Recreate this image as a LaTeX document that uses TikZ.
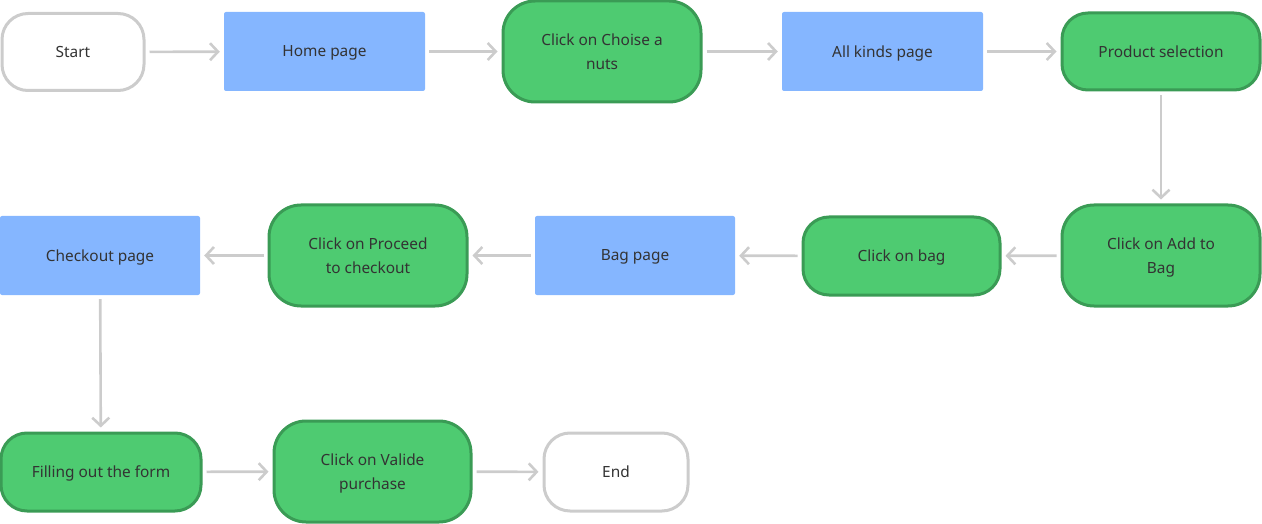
\documentclass[tikz,border=0pt]{standalone}
\usepackage{fontspec}
\setmainfont{Noto Sans}
\usetikzlibrary{arrows.meta}
\definecolor{grayline}{HTML}{CCCCCC}
\definecolor{bluebox}{HTML}{85B6FF}
\definecolor{greenfill}{HTML}{4ECB71}
\definecolor{greenline}{HTML}{3A9B55}
\definecolor{txt}{HTML}{333333}
\tikzset{
  base/.style={inner sep=0pt, align=center, text=txt, text depth=0pt, font=\fontsize{15.4}{24}\selectfont},
  term/.style={base, draw=grayline, fill=white, line width=3pt, rounded corners=26pt},
  page/.style={base, fill=bluebox, rounded corners=2pt},
  act/.style={base, draw=greenline, fill=greenfill, line width=3pt, rounded corners=32pt},
  link/.style={draw=grayline, line width=2.6pt, shorten <=4pt, shorten >=4pt,
    -{Straight Barb[length=8pt,width=17pt,line width=2.6pt]}}
}
\begin{document}
\begin{tikzpicture}[x=1pt,y=-1pt]
\useasboundingbox (0,0) rectangle (1262,524);
% row 1
\node[term, minimum width=142pt, minimum height=77pt] (start) at (73,52) {Start};
\node[page, minimum width=201pt, minimum height=79pt] (home) at (324.5,51.5) {Home page};
\node[act, minimum width=198pt, minimum height=101pt] (nuts) at (602,51.5) {Click on Choise a\\nuts};
\node[page, minimum width=201pt, minimum height=79pt] (kinds) at (882.5,51.5) {All kinds page};
\node[act, minimum width=198pt, minimum height=77pt, rounded corners=26pt] (prod) at (1161,51.5) {Product selection};
% row 2
\node[act, minimum width=198pt, minimum height=101pt] (add) at (1161,255.5) {Click on Add to\\Bag};
\node[act, minimum width=197pt, minimum height=78pt, rounded corners=26pt] (cbag) at (901.5,256) {Click on bag};
\node[page, minimum width=200pt, minimum height=79pt] (bag) at (635,255.5) {Bag page};
\node[act, minimum width=198pt, minimum height=101pt] (proc) at (368,255.5) {Click on Proceed\\to checkout};
\node[page, minimum width=200pt, minimum height=79pt] (chk) at (100,255.5) {Checkout page};
% row 3
\node[act, minimum width=200pt, minimum height=78pt, rounded corners=26pt] (form) at (101,472) {Filling out the form};
\node[act, minimum width=197pt, minimum height=101pt] (valid) at (372.5,471.5) {Click on Valide\\purchase};
\node[term, minimum width=144pt, minimum height=78pt] (end) at (616,472) {End};
% connectors
\draw[link] (start) -- (home);
\draw[link] (home) -- (nuts);
\draw[link] (nuts) -- (kinds);
\draw[link] (kinds) -- (prod);
\draw[link] (prod) -- (add);
\draw[link] (add) -- (cbag);
\draw[link] (cbag) -- (bag);
\draw[link] (bag) -- (proc);
\draw[link] (proc) -- (chk);
\draw[link] (chk) -- (form);
\draw[link] (form) -- (valid);
\draw[link] (valid) -- (end);
\end{tikzpicture}
\end{document}
